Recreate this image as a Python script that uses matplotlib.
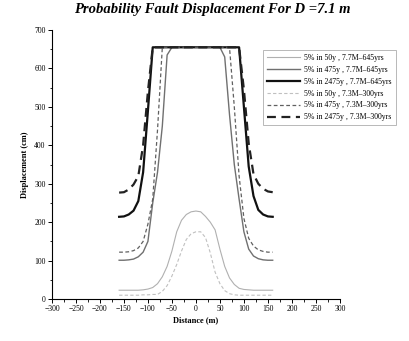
import matplotlib
matplotlib.use("Agg")
import matplotlib.pyplot as plt
from matplotlib.ticker import MultipleLocator

# distance along profile (m)
distance = [-160, -150, -140, -130, -120, -110, -100, -90, -80, -70, -60, -50, -40,
            -30, -20, -10, 0, 10, 20, 30, 40, 50, 60, 70, 80, 90, 100, 110, 120,
            130, 140, 150, 160]

# displacement (cm), 7.7M - 645yrs
d50_77 = [23, 23, 23, 23, 23, 24, 26, 30, 40, 58, 85, 125, 175,
          205, 220, 227, 229, 227, 215, 200, 180, 130, 85, 55, 38, 28, 25, 24, 23,
          23, 23, 23, 23]
d475_77 = [101, 101, 102, 104, 110, 122, 150, 250, 330, 450, 635, 655, 655,
           655, 655, 655, 655, 655, 655, 655, 655, 655, 630, 480, 350, 260, 175, 130, 112,
           105, 102, 101, 101]
d2475_77 = [214, 215, 220, 230, 255, 330, 490, 655, 655, 655, 655, 655, 655,
            655, 655, 655, 655, 655, 655, 655, 655, 655, 655, 655, 655, 655, 500, 345, 268,
            232, 220, 215, 214]

# displacement (cm), 7.3M - 300yrs
d50_73 = [10, 10, 10, 10, 10, 11, 11, 12, 12, 20, 35, 60, 90,
          125, 155, 170, 175, 175, 160, 120, 70, 40, 22, 14, 11, 10, 10, 10, 10,
          10, 10, 10, 10]
d475_73 = [122, 122, 123, 126, 133, 150, 195, 260, 440, 655, 655, 655, 655,
           655, 655, 655, 655, 655, 655, 655, 655, 655, 655, 655, 500, 320, 210, 158, 138,
           128, 124, 122, 122]
d2475_73 = [277, 278, 285, 298, 320, 400, 540, 655, 655, 655, 655, 655, 655,
            655, 655, 655, 655, 655, 655, 655, 655, 655, 655, 655, 655, 655, 545, 405, 325,
            300, 287, 280, 278]

labels = ["5% in 50y , 7.7M\u2013645yrs", "5% in 475y , 7.7M\u2013645yrs",
          "5% in 2475y , 7.7M\u2013645yrs", "5% in 50y , 7.3M\u2013300yrs",
          "5% in 475y , 7.3M\u2013300yrs", "5% in 2475y , 7.3M\u2013300yrs"]

plt.rcParams["font.family"] = ["Liberation Serif", "DejaVu Serif"]

fig = plt.figure(figsize=(4.09, 3.41), dpi=100)
ax = fig.add_axes([0.127, 0.123, 0.704, 0.789])

ax.plot(distance, d50_77, color="#b0b0b0", lw=0.8, label=labels[0])
ax.plot(distance, d475_77, color="#707070", lw=1.0, label=labels[1])
ax.plot(distance, d2475_77, color="#111111", lw=1.6, label=labels[2])
ax.plot(distance, d50_73, color="#c0c0c0", lw=0.8, ls=(0, (3, 2)), label=labels[3])
ax.plot(distance, d475_73, color="#606060", lw=0.9, ls=(0, (3, 2)), label=labels[4])
ax.plot(distance, d2475_73, color="#222222", lw=1.6, ls=(0, (4, 2.5)), label=labels[5])

ax.set_xlim(-300, 300)
ax.set_ylim(0, 700)
ax.xaxis.set_major_locator(MultipleLocator(50))
ax.xaxis.set_minor_locator(MultipleLocator(25))
ax.yaxis.set_major_locator(MultipleLocator(100))
ax.yaxis.set_minor_locator(MultipleLocator(50))
ax.tick_params(which="major", direction="out", length=3, width=0.7, labelsize=5.5, pad=1.5)
ax.tick_params(which="minor", direction="out", length=1.8, width=0.6)

for side in ("top", "right"):
    ax.spines[side].set_visible(False)
for side in ("left", "bottom"):
    ax.spines[side].set_linewidth(0.8)

ax.set_xlabel("Distance (m)", fontsize=6, fontweight="bold", labelpad=2)
ax.set_ylabel("Displacement (cm)", fontsize=6, fontweight="bold", labelpad=4)
fig.suptitle("Probability Fault Displacement For D =7.1 m", fontsize=10.5,
             fontweight="bold", fontstyle="italic", x=0.52, y=0.99)

leg = ax.legend(loc="upper left", bbox_to_anchor=(0.72, 0.94), fontsize=5.6,
                frameon=True, fancybox=False, edgecolor="#999999",
                handlelength=4.2, labelspacing=0.5, borderpad=0.5,
                handletextpad=0.6)
leg.get_frame().set_linewidth(0.6)

fig.savefig("out.png", dpi=100)
